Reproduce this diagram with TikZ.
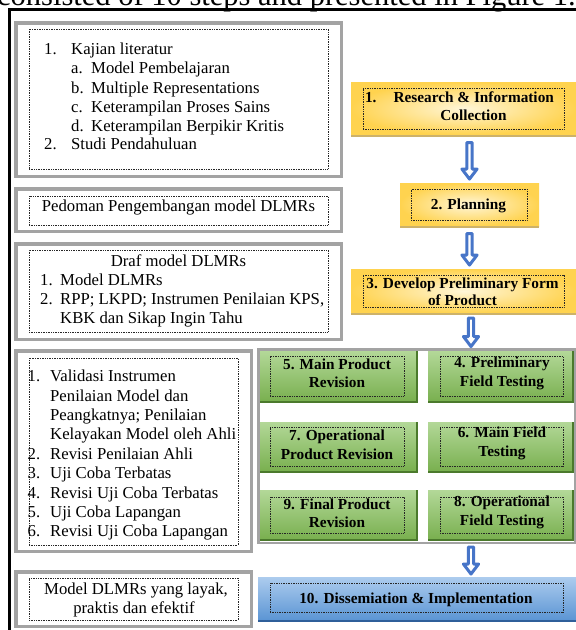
\documentclass[tikz,border=0pt]{standalone}
\usepackage{fontspec}
\setmainfont{Liberation Serif}
\usetikzlibrary{calc}
\definecolor{fgray}{HTML}{A3A3A3}
\definecolor{arrowblue}{HTML}{4775C8}
\definecolor{gold}{HTML}{FFD34F}
\definecolor{paleyellow}{HTML}{FFF6D8}
\definecolor{goldshadow}{HTML}{CDB26A}
\definecolor{greentop}{HTML}{B3D898}
\definecolor{greenbot}{HTML}{78AF4E}
\definecolor{greenshadow}{HTML}{4B7A2C}
\definecolor{bluetop}{HTML}{ADCCEE}
\definecolor{bluebot}{HTML}{5B95D4}
\definecolor{blueshadow}{HTML}{2F5F9A}
\tikzset{
  grayframe/.style={draw=fgray, line width=3.5pt, inner sep=0pt, outer sep=0pt},
  dotbox/.style={draw=black!85, densely dotted, line width=0.7pt, inner sep=0pt, outer sep=0pt},
  ltext/.style={font=\fontsize{16.7}{19.4}\selectfont, inner sep=0pt, anchor=base west},
  btext/.style={font=\bfseries\fontsize{15.3}{18.5}\selectfont, inner sep=0pt, align=center},
  captext/.style={font=\fontsize{30.5}{36}\selectfont, inner sep=0pt, anchor=base west},
  ybox/.style={inner color=paleyellow, outer color=gold, inner sep=0pt, outer sep=0pt},
  gbox/.style={top color=greentop, bottom color=greenbot, inner sep=0pt, outer sep=0pt},
  bbox/.style={top color=bluetop, bottom color=bluebot, inner sep=0pt, outer sep=0pt},
  ysh/.style={draw=goldshadow, line width=2pt},
  gsh/.style={draw=greenshadow, line width=1.6pt},
  bsh/.style={draw=blueshadow, line width=2pt},
  barrow/.style={draw=arrowblue, line width=3pt, fill=white, line join=round},
}
\newcommand{\blockarrow}[2]{%
  \draw[barrow] let \p1=(#1), \p2=(#2) in
    (\x1-2.6pt,\y1) -- (\x1+2.6pt,\y1) -- (\x1+2.6pt,\y2+10pt) -- (\x1+7.6pt,\y2+10pt)
    -- (\x1,\y2) -- (\x1-7.6pt,\y2+10pt) -- (\x1-2.6pt,\y2+10pt) -- cycle;}
\begin{document}
\begin{tikzpicture}[x=1pt,y=-1pt]
\useasboundingbox (0,0) rectangle (576,630);
\fill[white] (0,0) rectangle (576,630);
% caption remnant and outer frame
\node[captext] (cap) at (-3,5) {consisted of 10 steps and presented in Figure 1.};
\draw[line width=3.5pt, line join=miter] (9.5,634) -- (9.5,9.5) -- (580,9.5);

% ---------- left column ----------
\node[grayframe, minimum width=325.5pt, minimum height=153.5pt] (L1) at (178.5,99.5) {};
\node[dotbox, minimum width=299pt, minimum height=140pt] (D1) at (178.5,99) {};
\node[ltext] (k1n) at (44,54) {1.};
\node[ltext] (k1) at (71,54) {Kajian literatur};
\node[ltext] (kan) at (71,73) {a.};
\node[ltext] (ka) at (91,73) {Model Pembelajaran};
\node[ltext] (kbn) at (71,93) {b.};
\node[ltext] (kb) at (91,93) {Multiple Representations};
\node[ltext] (kcn) at (71,112) {c.};
\node[ltext] (kc) at (91,112) {Keterampilan Proses Sains};
\node[ltext] (kdn) at (71,131) {d.};
\node[ltext] (kd) at (91,131) {Keterampilan Berpikir Kritis};
\node[ltext] (k2n) at (44,149) {2.};
\node[ltext] (k2) at (71,149) {Studi Pendahuluan};

\node[grayframe, minimum width=325.5pt, minimum height=42.5pt] (L2) at (178.5,210) {};
\node[dotbox, minimum width=299pt, minimum height=29pt] (D2) at (178.5,210.5) {};
\node[ltext, anchor=base] (ped) at (178.5,211) {Pedoman Pengembangan model DLMRs};

\node[grayframe, minimum width=325.5pt, minimum height=95.5pt] (L3) at (178.5,291.5) {};
\node[dotbox, minimum width=299pt, minimum height=82pt] (D3) at (178.5,291) {};
\node[ltext, anchor=base] (dr) at (178.5,266) {Draf model DLMRs};
\node[ltext] (dr1n) at (40,285) {1.};
\node[ltext] (dr1) at (60,285) {Model DLMRs};
\node[ltext] (dr2n) at (40,304) {2.};
\node[ltext] (dr2) at (60,304) {RPP; LKPD; Instrumen Penilaian KPS,};
\node[ltext] (dr3) at (60,323) {KBK dan Sikap Ingin Tahu};

\node[grayframe, minimum width=235.5pt, minimum height=200.5pt] (L4) at (133.5,451) {};
\node[dotbox, minimum width=209pt, minimum height=187pt] (D4) at (133.5,451.5) {};
\node[ltext] (v1n) at (27.5,381.5) {1.};
\node[ltext] (v1) at (50,381.5) {Validasi Instrumen};
\node[ltext] (v1b) at (50,401) {Penilaian Model dan};
\node[ltext] (v1c) at (50,420.5) {Peangkatnya; Penilaian};
\node[ltext] (v1d) at (50,439.5) {Kelayakan Model oleh Ahli};
\node[ltext] (v2n) at (27.5,459) {2.};
\node[ltext] (v2) at (50,459) {Revisi Penilaian Ahli};
\node[ltext] (v3n) at (27.5,478.5) {3.};
\node[ltext] (v3) at (50,478.5) {Uji Coba Terbatas};
\node[ltext] (v4n) at (27.5,498) {4.};
\node[ltext] (v4) at (50,498) {Revisi Uji Coba Terbatas};
\node[ltext] (v5n) at (27.5,517.5) {5.};
\node[ltext] (v5) at (50,517.5) {Uji Coba Lapangan};
\node[ltext] (v6n) at (27.5,536.5) {6.};
\node[ltext] (v6) at (50,536.5) {Revisi Uji Coba Lapangan};

\node[grayframe, minimum width=235.5pt, minimum height=54.5pt] (L5) at (133.5,599) {};
\node[dotbox, minimum width=209pt, minimum height=42pt] (D5) at (133.5,599) {};
\node[ltext, anchor=base] (m1) at (136,594.5) {Model DLMRs yang layak,};
\node[ltext, anchor=base] (m2) at (134,613.5) {praktis dan efektif};

% ---------- right column ----------
\node[ybox, minimum width=225pt, minimum height=53pt] (Y1) at (463.5,108.5) {};
\draw[ysh] ([yshift=-1pt]Y1.south west) -- ([yshift=-1pt]Y1.south east);
\node[dotbox, minimum width=201pt, minimum height=41pt] (Y1d) at (463.5,108.5) {};
\node[btext] (Y1t) at (459.5,106) {1.\hspace{17pt}Research \& Information\\\hspace*{28pt}Collection};

\node[ybox, minimum width=139pt, minimum height=43pt] (Y2) at (469.5,204.5) {};
\draw[ysh] ([yshift=-1pt]Y2.south west) -- ([yshift=-1pt]Y2.south east);
\node[dotbox, minimum width=116pt, minimum height=31pt] (Y2d) at (469,204.5) {};
\node[btext] (Y2t) at (468.5,206) {2. Planning};

\node[ybox, minimum width=225pt, minimum height=44pt] (Y3) at (463.5,291) {};
\draw[ysh] ([yshift=-1pt]Y3.south west) -- ([yshift=-1pt]Y3.south east);
\node[dotbox, minimum width=201pt, minimum height=32pt] (Y3d) at (463.5,291) {};
\node[btext, font=\bfseries\fontsize{15.3}{17}\selectfont] (Y3t) at (462.5,291.5) {3. Develop Preliminary Form\\of Product};

% green panel
\node[draw=fgray, line width=2.5pt, inner sep=0pt, outer sep=0pt, minimum width=316.5pt, minimum height=193.5pt] (P) at (416.75,446.25) {};
\foreach \nm/\cx/\cy/\w/\h/\dw/\dh/\dcx/\dcy/\tx/\ty/\txt in {
  G5/338.5/376.5/157/51/134/40/337/376/337/373.5/{5. Main Product\\Revision},
  G4/500.5/376.5/145/51/123/40/501.5/376/502/373.5/{4. Preliminary\\Field Testing},
  G7/338.5/447/157/50/134/39/337/446.5/337/445/{7. Operational\\Product Revision},
  G6/500.5/447/145/50/123/39/501.5/446.5/502/443.5/{6. Main Field\\Testing},
  G9/338.5/515/157/50/134/36/337/515/337/513.5/{9. Final Product\\Revision},
  G8/500.5/515/145/50/123/36/501.5/515/502/512.5/{8. Operational\\Field Testing}}{
  \node[gbox, minimum width=\w pt, minimum height=\h pt] (\nm) at (\cx,\cy) {};
  \draw[gsh] (\nm.south west) -- (\nm.south east) -- (\nm.north east);
  \node[dotbox, minimum width=\dw pt, minimum height=\dh pt] (\nm d) at (\dcx,\dcy) {};
  \node[btext] (\nm t) at (\tx,\ty) {\txt};
}

% blue box
\node[bbox, minimum width=318pt, minimum height=43pt] (B) at (417,598.5) {};
\draw[bsh] ([yshift=-1pt]B.south west) -- ([yshift=-1pt]B.south east);
\node[dotbox, minimum width=293pt, minimum height=29pt] (Bd) at (416.5,597.5) {};
\node[btext] (Bt) at (416,599.5) {10. Dissemiation \& Implementation};

% arrows
\coordinate (a1s) at ($(Y1.south -| Y2.center)+(0,7.5)$);
\coordinate (a1e) at ($(Y2.north)+(0,-4)$);
\coordinate (a2s) at ($(Y2.south)+(0,7.5)$);
\coordinate (a2e) at ($(Y3.north -| Y2.center)+(0,-4)$);
\coordinate (a3s) at ($(Y3.south -| Y2.center)+(1.5,5)$);
\coordinate (a3e) at ($(P.north -| Y2.center)+(1.5,-3)$);
\coordinate (a4s) at ($(P.south -| Y2.center)+(1.5,4)$);
\coordinate (a4e) at ($(B.north -| Y2.center)+(1.5,-3)$);
\blockarrow{a1s}{a1e}
\blockarrow{a2s}{a2e}
\blockarrow{a3s}{a3e}
\blockarrow{a4s}{a4e}
\end{tikzpicture}
\end{document}
